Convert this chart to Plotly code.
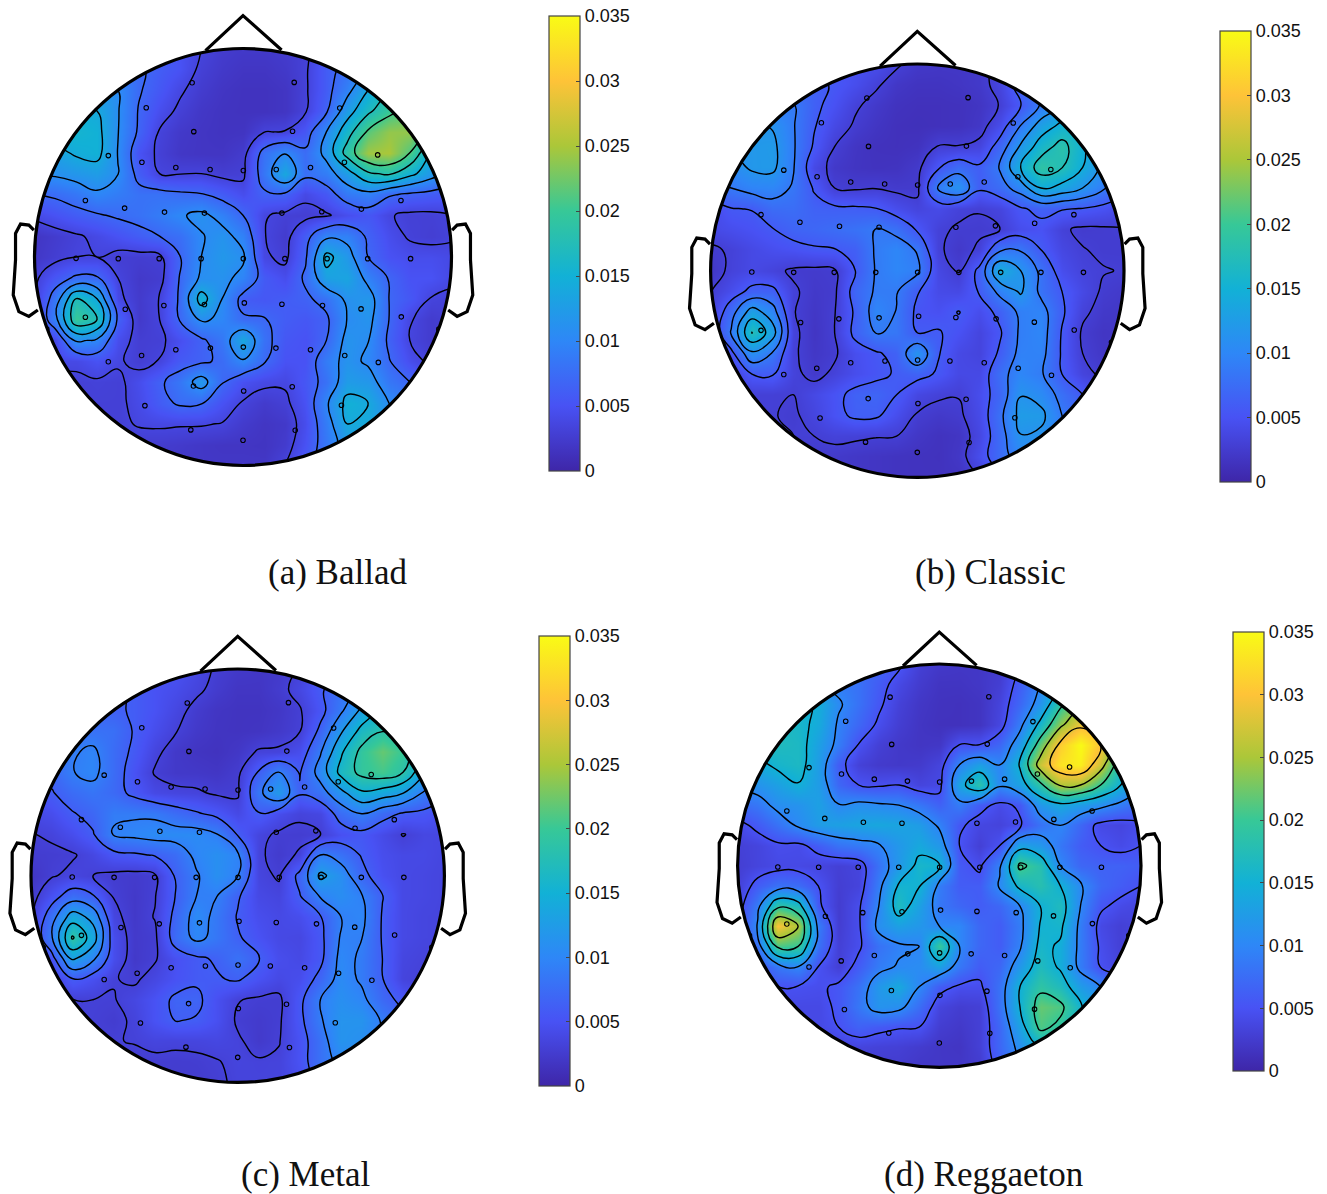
import numpy as np
import plotly.graph_objects as go

W, H = 1327, 1194

# Scalp amplitude (units of 0.001), rows top to bottom, columns left to right,
# sampled every tenth of a head radius.
BALLAD_Z = [
[6,6,6,6,6,6,6,5,3.5,2.5,2.2,2.2,2.5,3,5,7,10,12,12,10,8],
[9,9,9,9,8,7.5,6,5,3,2.2,1.8,1.8,2.2,3.2,6,8,11,14,14,11,8],
[12,12,12,12,10.5,7.3,5.5,3.8,2.5,1.8,1.5,1.5,1.8,3.2,6,9.5,14,17,17,13,9],
[15,15,15,14,10.7,6.8,4.5,3,2,1.6,1.5,1.5,1.8,3.3,6.6,12.5,16.8,20,22,17,11],
[16,16,15.5,15,10.6,6.6,3.3,2.2,1.8,1.6,1.7,3.4,3.6,5.5,10.5,16,21.5,24,24,18,12],
[13,13,14.5,15,10.4,5,3,2,1.8,1.8,2.5,8,10.3,7.5,11.5,19,24.5,25,21,14,10],
[11,11,11.8,12.5,10.6,6,3.5,3.4,3.5,2.8,3,8.5,13.8,7.8,9,12.5,17,18,15,12,9],
[7,7.5,8.5,10,9,8,8,7.5,7.2,6,4.5,6.5,6.5,4,5.5,8.7,9.5,7.4,6.5,6,5.5],
[4,5,6,6.7,7.4,8,9,10.2,11.2,9.5,7,3.7,3,2.8,3.2,4.5,5.5,3.7,3,3,3.4],
[1.8,2.5,3.2,4,5,6,7,7.8,10.3,11.5,9.5,3.6,2.5,6,9.8,9.5,6.5,4.5,3.2,2.8,3.3],
[2,2.8,3.5,3.5,2.8,2.7,2.9,7,10.5,12,11,3.9,2.9,6.6,15,12,7,5,4.5,4.5,4],
[3,5.5,7.5,7.3,3.5,2.2,2.6,7.3,11,11.3,9.7,5.8,4.5,7.5,13,13.5,9.5,6.8,5,5,4],
[3,8.5,17.5,14,4,2.4,3.6,7.5,15.5,10.5,6,5.5,6,6.5,8,11.2,12,7,5.5,3.4,3],
[3,9.5,20,17.5,6.5,2.3,3.5,7.3,10.9,10,7.4,7.2,6,5.5,6.5,10.6,11.5,7,3.7,2.5,3],
[3,4,11,10,4.5,2.8,3,4.7,6.5,8.5,13.8,8,5.5,5,7,11.5,10.6,6.5,3.5,2.5,3],
[4,4,4,5,3.8,2.8,3.6,5.8,6.5,7.5,10.2,7.3,5,5,9,11.5,10,7.2,4.5,3,3],
[3,3,3,3.2,3,4.5,6.5,8.5,12,7.2,4.8,4,3.8,5.5,8,12.5,12,8.5,7,5,4],
[3,3,3,3,3,4.2,6,7.5,7.2,5,3.3,2.4,3,5,10,15,14,10.5,9,7,5],
[3,3,3,3,3,3.7,3.8,3.7,3.7,3.4,2.4,1.8,2.2,4.5,9,14,14,11,9,7,5],
[2.5,2.5,2.5,2.5,2.5,2.5,2.5,2.3,2,1.8,1.8,1.7,2.5,5,8.5,12,12,10,8,6,4],
[2.5,2.5,2.5,2.5,2.5,2.5,2.3,2,2,2,2,2,3.5,6,9,12,12,10,8,6,4],
]
CLASSIC_Z = [
[5,5,5,5,5,5,5,5,4.5,3.2,2.2,2,2,2.2,3.5,6,9,11,11,9,7],
[7,7,7,7,7,6.5,5.5,4.5,3.2,2,1.6,1.6,1.8,2.2,3.6,7,9,12,12,9,7],
[9,9,9,9,8.9,6.4,4.9,3.2,2.2,1.5,1.3,1.3,1.4,1.8,3,5.6,9,12,13,10,7],
[12,12,12,11.4,8.9,6,4,2.6,1.8,1.3,1.2,1.3,1.4,2,4.4,8.8,13,15.2,15.5,12,8],
[12,12,12,12.3,9,5.5,2.9,1.8,1.4,1.3,1.5,3,3,3.5,7,12,16,18.5,15,12,9],
[10,10.5,12,12.2,8.9,4,2.2,1.7,1.5,1.6,2.3,5.5,7.5,6.2,9,14.5,19,17.5,14.5,11,8],
[8,8.7,9.8,10,8.4,5.6,2.9,2.6,2.8,2.4,2.4,9.2,11.4,6.2,7.5,10,14.6,13.5,11.6,9,7],
[4,5.7,5.9,7.5,7.6,6.5,6.3,6.2,5.9,4.5,3.5,4.2,3.3,3,3.6,5.5,6.5,6,5.7,5,4],
[4,4.5,5,5.7,6.7,7,7.5,8,8.8,8,5.5,3.2,2.7,2.6,2.9,4.5,5,3.2,2.5,2.6,2.8],
[2.5,3.2,4,4.6,5,5.5,5.7,6.3,9,10,8.5,3.2,2.2,3.2,8.3,8.5,5.8,3.8,3,2.6,2.6],
[2,3.3,4,3.4,2.6,2.4,2.6,5.8,8.9,10,9.3,3.9,2.7,6.5,14.5,11.6,8,4.5,3.4,3,2.8],
[2.8,4.5,6.5,6.5,3.2,2.2,2.5,7,9,8.9,6,4.2,4,6,9.5,12,8,5.8,4,2.6,2.2],
[3,7.5,13,10,3,2,2.8,6.2,10,8.6,5.2,4.8,5.9,4.5,6.5,9.3,9.8,6.2,3.3,2.2,2],
[3,9,17.5,13,3.4,1.8,2.9,6.5,8.8,8.5,5.8,6,5,3.6,5.5,9.2,10,5.6,2.6,1.8,2],
[3,5,11,8.5,3.2,2,2.6,4.6,5.5,6.5,11.4,6,4,3.5,6.2,9.5,9.6,5.5,2.9,2,2],
[3,3,5.8,6,3.4,2.3,3.3,4.5,5.3,6,6.7,5.5,4,4,7.8,10,9,5.8,3.5,2.5,2],
[3,3,3,3,2.9,4,5.1,6.5,6.8,5.8,3.8,3.2,3,4.5,7,11.5,10.5,7.8,5.8,4,3],
[3,3,3,3,2.6,3.6,5,6.3,6.2,4.5,2.7,2.2,2.5,4.2,8,12.5,12.3,8.7,7,5,3],
[3,3,3,3,2.9,2.9,3.3,3.2,3,2.9,2,1.5,1.8,3.8,7.5,11.5,11,9,7,5,3],
[2.5,2.5,2.5,2.5,2.5,2.4,2.3,2,1.8,1.6,1.5,1.4,2,4.5,7.5,10,10,8,6,5,3],
[2.5,2.5,2.5,2.5,2.5,2.5,2.2,2,1.8,1.6,1.5,1.5,1.6,2.8,5,7,8,7,6,5,3],
]
METAL_Z = [
[5,5,5,5,5,5,5,5,4,2.8,2.2,2,2.2,3.2,4.5,6,9,12,12,9,7],
[7,7,7,7,6.5,6,5,4.4,3.5,2.5,1.8,1.8,2.5,3.8,5.8,8,10,13,13,10,7],
[7,7,7,7,6.5,6,5,3.8,2.5,1.8,1.6,1.6,2,2.9,5.3,8.8,13,16,16,12,8],
[8,8,8,8,7.8,6,4.5,3.2,2.2,1.7,1.6,1.7,2.2,3,6.8,12,16.5,18.5,17,13,9],
[8,8.5,9,9.8,7.5,5.7,3.6,2.2,1.7,1.5,2,3.3,3.4,4.5,9,15,19.5,22,20,15,10],
[7,7,9.2,10,7.5,5,2.9,2.2,2.1,1.9,2.6,6.4,9.6,6,10.5,16.5,19.5,20.5,18.6,13,9],
[5.5,6,7.5,8.3,7.3,5.5,4,3.6,3.4,2.8,2.8,8.5,12.2,6.5,8,11.5,15,14,12.5,9,7],
[4,4.5,6,7,9,9,8.8,7.5,6.5,5.5,4,6,4.5,3.4,3.8,7.5,9.3,7.3,5.9,5.5,4.5],
[3,3.4,4.5,6,9.5,10,10.5,10.5,10.5,9.4,6,3.6,2.8,2.7,3,4.8,5.5,4.2,3,3.8,3.8],
[2.6,2.7,2.9,3.8,5.4,5.8,6.4,7.5,10,11,9.8,3.4,2.5,3.3,9.3,8,6,4.5,4,4,3.6],
[1.8,2.9,3.6,3.1,2.6,2.4,2.8,6.5,9,11,9.4,3.6,2.9,7,13,11,7,4.8,4,3.8,3.5],
[2.2,5,7.8,6.5,3,2.2,3,6.3,9.3,9.3,6.5,4,3.6,6,9.5,10.8,9.5,6.3,4,3.8,3.5],
[2.7,8,14,11.5,3.7,2.2,3.2,7,10.5,8.6,6,4.5,4,4.5,6,9.3,10,6,4,3.6,3.5],
[3,9,19,14,4.5,2.3,2.7,7.5,10,8.5,6.5,5,4,3.8,5.5,9.6,9.35,6,4,3.6,3.5],
[3,5,13,10,4.5,2.2,2.9,4.8,5.8,6.5,8,6.3,4.5,4,5.5,10.2,8.9,6.2,3.7,3.3,3.3],
[3,3,6,4.8,3.2,2.8,3.8,5,5.8,6,6.5,5,4,4.5,7,10.5,8.9,6.3,3.5,3,3],
[3,3,3,3.1,3,3.8,5,6.7,6.8,4.8,3.2,2.8,2.7,5.5,9.3,11,10,7.2,5.5,4,3],
[3,3,3,3,2.6,3.4,5,6.3,6,4.8,2.8,2.4,2.8,5.5,9,11.5,11.5,9,7,5,3],
[3,3,3,3,3,3.2,3.6,3.5,3.6,3.8,3.4,2.3,3,5,8,11.5,11,9,7,5,3],
[2.5,2.5,2.5,2.5,2.5,2.6,2.7,2.6,2.7,3,3.5,3.3,3.4,5,8,10,10,8,6,5,3],
[2.5,2.5,2.5,2.5,2.5,2.5,2.5,2.5,2.5,2.8,3.4,3.4,3.4,4.5,7,8,8,7,5,4,3],
]
REGGAETON_Z = [
[7,7,7,7,7,7,7,7,5.5,3,2.2,2,2,2.5,5,8,12,16,16,12,9],
[11,11,11,11,10,9,8,6,4,2.5,1.7,1.7,2,2.8,6,10,14,19,19,14,10],
[16,16,16,16,14.5,10.5,8,5.5,3.2,2,1.5,1.4,1.7,3.4,7,11.5,19,24,24,18,11],
[17,17,17,16,14.2,9.5,7,4.5,2.8,1.8,1.4,1.4,1.7,3.7,9,16,24,29,29,21,13],
[17,17,17,16.5,13,9,4.9,3,2.2,1.8,2,5,5,7,12,22,31,35,30,22,14],
[13,14,15.8,16.5,12.5,6,3.2,2.4,2.2,2.4,3.5,10,13,10,15.5,27,33,34,27,17,12],
[11,11.5,13,14.8,12.5,7,5,4.6,5,3.5,4,13.5,18.5,10.5,13,19,25.5,25,20,15,11],
[7.5,8.5,11,11.5,13,10.2,11,10.5,10,8.5,6.5,9,6,4.2,5.5,12,14,12.5,11,9,7],
[4,5.8,8,10.5,12.5,13,13.5,13.8,13.5,12.5,9.5,5.5,3.8,3.4,4.6,8,10,7,4,3.6,4.5],
[3,3.5,4.5,4.3,6,8,8.7,9.7,12,14,12,5,3,5,13.5,12,8.5,6,5,4.2,5],
[2.8,3.5,4,4,3.6,3,3.5,8,12,16,15.3,5.8,4.5,9.5,21,18,10,7,6.5,6.5,6],
[3,6,8,7.5,5,2.8,3.4,9,15.5,15.2,9,6,6,10.5,16,18,15,10.5,7,6,5],
[3.5,9,19,17,5.5,2.6,4.5,10,17,13,8.5,7,6,7,10,15,17,10,5.5,4.2,3.5],
[4,10.5,30,25,9,2.7,4.5,11,13,12,10,10,7,6,9,15.2,15.8,9,4,3,3.5],
[5,8,21,20,8,3,4.5,8,9.5,10,19.8,10,7,6,9.5,16,14.5,9,4.5,3,3.5],
[5,5,8.5,10,5,3,6,9,10.3,10.7,13,8.5,6,7,12,17,14.5,9,4.8,3.5,3.5],
[5,5,5,4.8,4.5,5.5,8,12,14,10,6,4.6,4.5,8,15,19,17,12.5,10,7,5],
[4,4,4,4,4,5.5,8.5,11.5,11,7.5,3.5,2.7,3,8,15,22,21,15.5,12,9,6],
[4,4,4,4,4,5,6.5,5.8,5.2,5,2.7,2.2,3,7,13,21,19,15,12,9,6],
[3,3,3,3,3,3.2,3.5,3.2,3,2.5,2,1.8,3,7,11,15,15,12,9,7,5],
[2.5,2.5,2.5,2.5,2.5,2.5,2.5,2.5,2.5,2,2,2,2.5,6,10,12,12,10,8,6,4],
]

GRID_POS = [-1.0,-0.9,-0.8,-0.7,-0.6,-0.5,-0.4,-0.3,-0.2,-0.1,0.0,0.1,0.2,0.3,0.4,0.5,0.6,0.7,0.8,0.9,1.0]

# Electrode sites, head radius = 627 of these units
ELECTRODE_X = [-153,154,-291,291,-148,149,-405,405,-304,-202,-99,1,100,203,305,-474,-356,-236,-116,117,237,356,475,
               -502,-375,-252,-126,1,126,253,375,504,-354,-238,-116,4,117,239,355,476,-474,-590,589,-305,-202,-98,1,99,203,306,
               -405,407,-149,2,148,-295,296,-157,157,0]
ELECTRODE_Y = [524,525,449,448,377,378,305,307,285,269,263,260,263,269,285,170,147,135,132,132,136,144,170,
               -4,-5,-5,-5,-5,-5,-5,-5,-5,-157,-146,-143,-138,-142,-146,-156,-180,-181,-217,-217,-296,-279,-274,-271,-274,-279,-296,
               -315,-317,-388,-403,-390,-447,-446,-520,-521,-551]
HEAD_UNIT = 627.0

NOSE_X = [-0.18, 0.0, 0.185]
NOSE_Y = [0.99, 1.158, 0.993]
EAR_X = [-1.003,-1.027,-1.067,-1.091,-1.091,-1.102,-1.075,-1.027,-0.984]
EAR_Y = [0.129,0.153,0.158,0.113,-0.014,-0.182,-0.262,-0.285,-0.254]

TICK_VALS = [0,0.005,0.01,0.015,0.02,0.025,0.03,0.035]
TICK_TEXT = ["0","0.005","0.01","0.015","0.02","0.025","0.03","0.035"]
PARULA = [[0/7,"rgb(62,38,168)"],[1/7,"rgb(72,82,244)"],[2/7,"rgb(46,135,247)"],[3/7,"rgb(18,177,214)"],
          [4/7,"rgb(55,200,151)"],[5/7,"rgb(171,199,57)"],[6/7,"rgb(254,195,56)"],[7/7,"rgb(249,251,21)"]]

PANELS = [
    dict(z=BALLAD_Z, cx=243.0, cy=257.0, r=208.5, level=3.5, bar=(549,580,16,471), cap="(a) Ballad", capx=337, capy=572),
    dict(z=CLASSIC_Z, cx=917.3, cy=270.7, r=206.7, level=2.9, bar=(1220,1251,31,482), cap="(b) Classic", capx=991, capy=572),
    dict(z=METAL_Z, cx=237.7, cy=875.7, r=206.7, level=3.1, bar=(539,570,636,1086), cap="(c) Metal", capx=306, capy=1174),
    dict(z=REGGAETON_Z, cx=939.3, cy=865.7, r=201.7, level=5.0, bar=(1233,1264,632,1071), cap="(d) Reggaeton", capx=983, capy=1174),
]

XSPAN, YSPAN = 1.14, 1.2

def poly(xs, ys):
    return "M " + " L ".join(f"{a},{b}" for a, b in zip(xs, ys))

K = 0.5523
HOLE = (f"M 1,0 C 1,{K} {K},1 0,1 C {-K},1 -1,{K} -1,0 C -1,{-K} {-K},-1 0,-1 C {K},-1 1,{-K} 1,0 Z")

fig = go.Figure()
shapes, annos, layout_axes = [], [], {}
for n, p in enumerate(PANELS, start=1):
    xa, ya = f"x{n}", f"y{n}"
    xkey, ykey = f"xaxis{n}", f"yaxis{n}"
    layout_axes[xkey] = dict(domain=[(p["cx"]-XSPAN*p["r"])/W, (p["cx"]+XSPAN*p["r"])/W], range=[-XSPAN, XSPAN],
                             visible=False, anchor=ya)
    layout_axes[ykey] = dict(domain=[1-(p["cy"]+YSPAN*p["r"])/H, 1-(p["cy"]-YSPAN*p["r"])/H], range=[-YSPAN, YSPAN],
                             visible=False, anchor=xa)
    z = np.array(p["z"], dtype=float)[::-1] / 1000.0
    b = p["bar"]
    fig.add_trace(go.Heatmap(x=GRID_POS, y=GRID_POS, z=z, xaxis=xa, yaxis=ya, zmin=0, zmax=0.035, colorscale=PARULA,
                             zsmooth="best", hoverinfo="skip",
                             colorbar=dict(x=b[0]/W, xanchor="left", xpad=0, ypad=0, y=1-b[3]/H, yanchor="bottom",
                                           len=(b[3]-b[2])/H, lenmode="fraction", thickness=b[1]-b[0], thicknessmode="pixels",
                                           outlinecolor="#444", outlinewidth=1.2, ticks="inside", ticklen=4, tickcolor="#444",
                                           tickvals=TICK_VALS, ticktext=TICK_TEXT,
                                           tickfont=dict(family="Liberation Sans", size=18, color="#111"))))
    fig.add_trace(go.Contour(x=GRID_POS, y=GRID_POS, z=z, xaxis=xa, yaxis=ya, showscale=False, hoverinfo="skip",
                             contours=dict(coloring="none", start=p["level"]/1000, end=p["level"]*6.01/1000, size=p["level"]/1000),
                             line=dict(color="black", width=1.4, smoothing=1.3)))
    fig.add_trace(go.Scatter(x=np.array(ELECTRODE_X)/HEAD_UNIT, y=np.array(ELECTRODE_Y)/HEAD_UNIT, mode="markers",
                             xaxis=xa, yaxis=ya, showlegend=False, hoverinfo="skip",
                             marker=dict(size=4.5, color="rgba(0,0,0,0)", line=dict(color="black", width=1.1))))
    # white surround that clips the map to the head
    shapes.append(dict(type="path", xref=xa, yref=ya, layer="above", fillcolor="white", line=dict(width=0), fillrule="evenodd",
                       path=f"M -1.12,-1.12 L 1.12,-1.12 L 1.12,1.12 L -1.12,1.12 Z {HOLE}"))
    shapes.append(dict(type="circle", xref=xa, yref=ya, x0=-1, x1=1, y0=-1, y1=1, layer="above", line=dict(color="black", width=3.2)))
    outline = dict(type="path", xref=xa, yref=ya, layer="above", line=dict(color="black", width=3.2))
    shapes.append(dict(outline, path=poly(NOSE_X, NOSE_Y)))
    shapes.append(dict(outline, path=poly(EAR_X, EAR_Y)))
    shapes.append(dict(outline, path=poly([-a for a in EAR_X], EAR_Y)))
    annos.append(dict(text=p["cap"], xref="paper", yref="paper", x=p["capx"]/W, y=1-p["capy"]/H, showarrow=False,
                      xanchor="center", yanchor="middle", font=dict(family="Liberation Serif", size=35, color="#111")))

fig.update_layout(width=W, height=H, margin=dict(l=0, r=0, t=0, b=0), paper_bgcolor="white", plot_bgcolor="white",
                  showlegend=False, shapes=shapes, annotations=annos, **layout_axes)
fig.write_html("out.html", post_script="document.body.style.margin='0';", config={"displayModeBar": False})
